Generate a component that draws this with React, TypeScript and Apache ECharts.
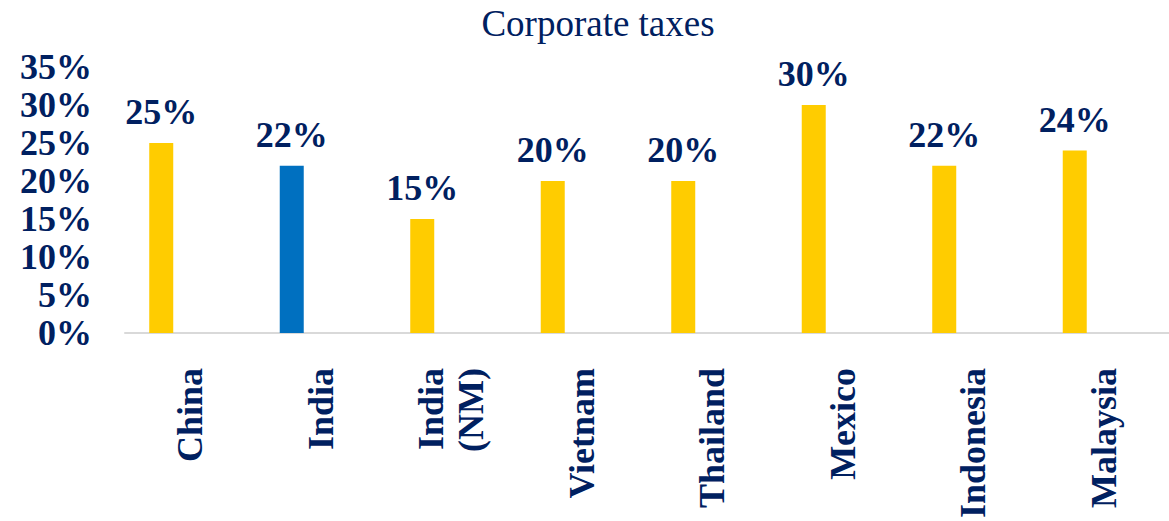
import React, { useEffect, useRef } from "react";
import * as echarts from "echarts";

const categories = ["China", "India", "India\n(NM)", "Vietnam", "Thailand", "Mexico", "Indonesia", "Malaysia"];
const taxRates = [25, 22, 15, 20, 20, 30, 22, 24];
const highlightIndex = 1;
const yTicks = { min: 0, max: 35, interval: 5 };

const NAVY = "#002060";
const YELLOW = "#FFCC00";
const BLUE = "#0070C0";
const FONT = "'Liberation Serif', 'Times New Roman', serif";

export default function App() {
  const ref = useRef<HTMLDivElement>(null);
  useEffect(() => {
    if (!ref.current) return;
    document.body.style.margin = "0";
    const chart = echarts.init(ref.current, null, { renderer: "svg" });
    chart.setOption({
      animation: false,
      title: {
        text: "Corporate taxes",
        left: 593,
        top: 0,
        textAlign: "center",
        textStyle: { fontFamily: FONT, fontWeight: "normal", fontSize: 37, color: NAVY },
      },
      grid: { left: 125, right: 0, top: 67, bottom: 180, containLabel: false },
      xAxis: {
        type: "category",
        data: categories,
        axisTick: { show: false },
        axisLine: { show: true, lineStyle: { color: "#D9D9D9", width: 2 } },
        axisLabel: {
          rotate: 90,
          margin: 35,
          interval: 0,
          fontFamily: FONT,
          fontWeight: "bold",
          fontSize: 36,
          lineHeight: 40,
          color: NAVY,
        },
      },
      yAxis: {
        type: "value",
        min: yTicks.min,
        max: yTicks.max,
        interval: yTicks.interval,
        splitLine: { show: false },
        axisLine: { show: false },
        axisTick: { show: false },
        axisLabel: {
          formatter: "{value}%",
          margin: 33,
          fontFamily: FONT,
          fontWeight: "bold",
          fontSize: 36,
          color: NAVY,
        },
      },
      series: [
        {
          type: "bar",
          barWidth: 24,
          barGap: "141.7%",
          data: taxRates.map((v, i) => ({
            value: v,
            itemStyle: { color: i === highlightIndex ? BLUE : YELLOW },
          })),
          label: {
            show: true,
            position: "top",
            distance: 13,
            formatter: "{c}%",
            fontFamily: FONT,
            fontWeight: "bold",
            fontSize: 36,
            color: NAVY,
          },
        },
        {
          type: "bar",
          barWidth: 24,
          data: taxRates.map(() => null),
          silent: true,
        },
      ],
    });
    return () => chart.dispose();
  }, []);
  return <div ref={ref} style={{ width: 1169, height: 521 }} />;
}
